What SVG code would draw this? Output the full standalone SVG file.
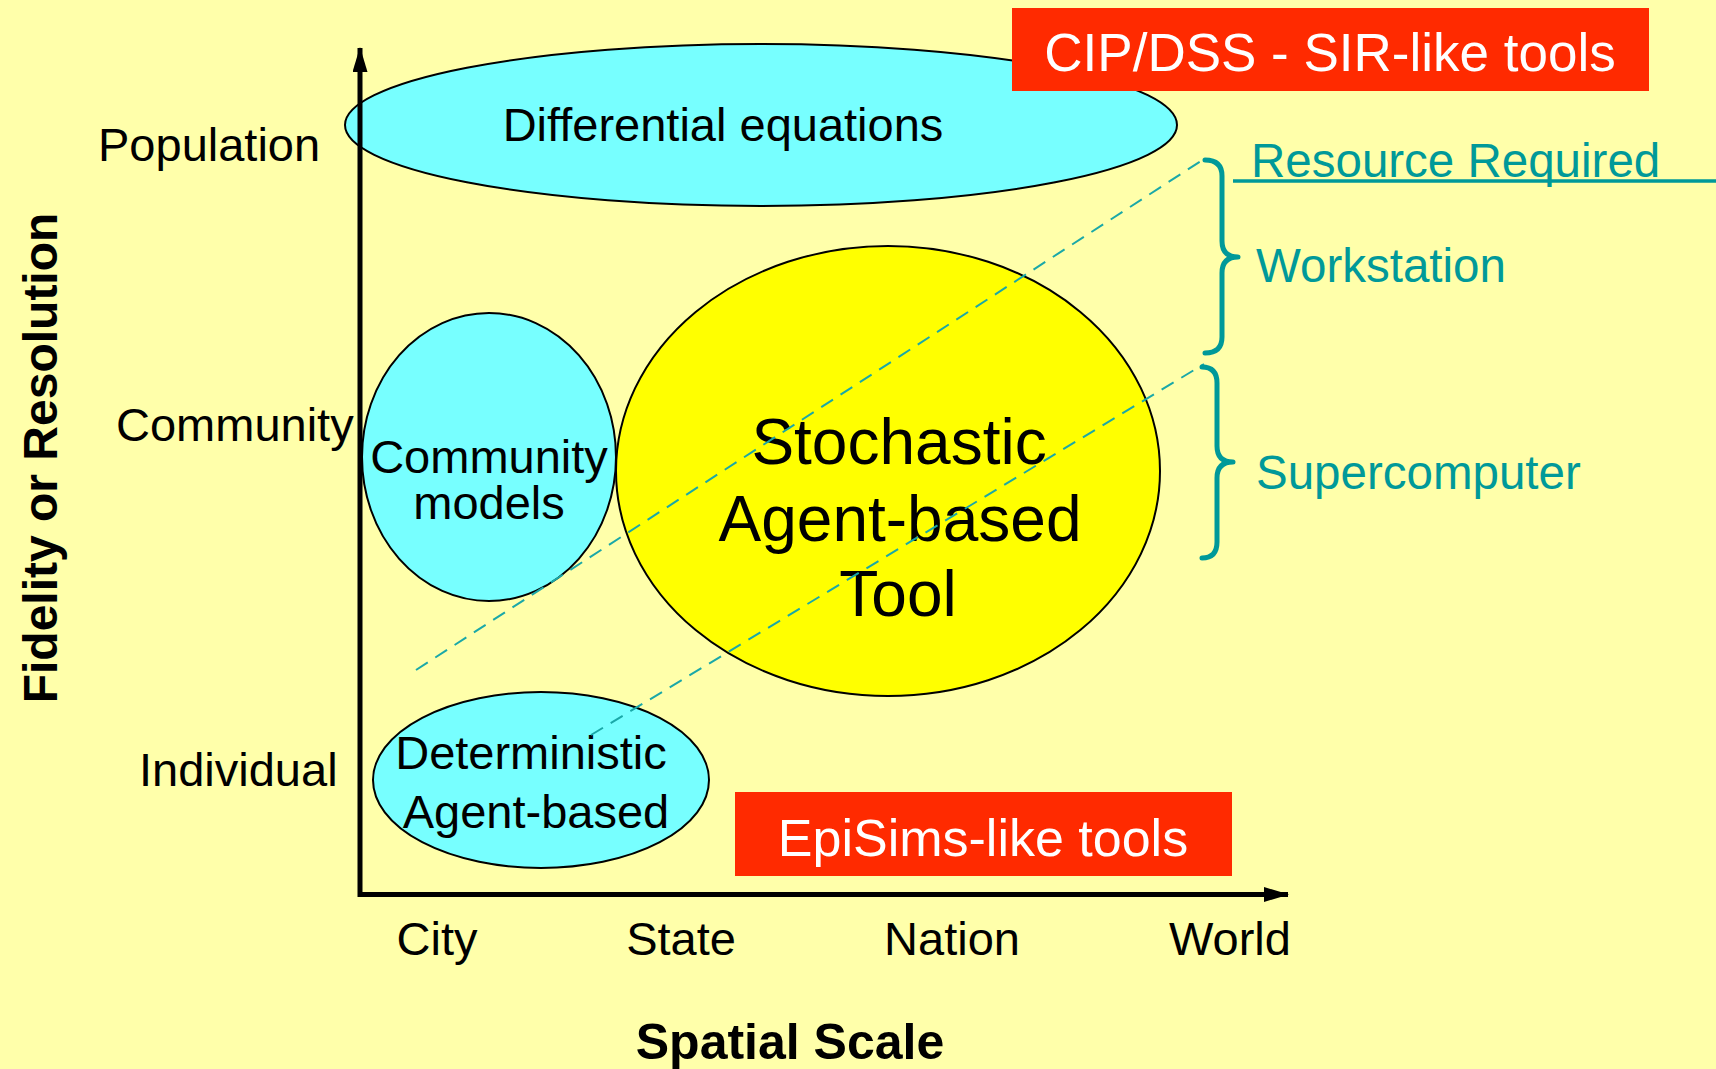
<svg xmlns="http://www.w3.org/2000/svg" width="1716" height="1069" viewBox="0 0 1716 1069">
<style>
text{font-family:"Liberation Sans",Arial,sans-serif;fill:#000}
.lbl{font-size:47px}
.teal{fill:#009999;font-size:47.5px}
.white{fill:#fff;font-size:53px}
.bold{font-weight:bold;font-size:50px}
.cyan{fill:#77ffff;stroke:#000;stroke-width:2}
.dash{stroke:#1aa8a8;stroke-width:2;stroke-dasharray:14,9;fill:none}
.brace{stroke:#009999;stroke-width:5;fill:none;stroke-linecap:round;stroke-linejoin:round}
.axis{stroke:#000;stroke-width:5;fill:none}
</style>
<defs>
<marker id="ah" viewBox="0 0 25 15" refX="24" refY="7.5" markerWidth="25" markerHeight="15" orient="auto" markerUnits="userSpaceOnUse">
<path d="M0,0 L25,7.5 L0,15 z" fill="#000"/>
</marker>
</defs>
<rect width="1716" height="1069" fill="#ffffaa"/>

<g id="diff-eq">
<ellipse class="cyan" cx="761" cy="125" rx="416" ry="81"/>
<text class="lbl" x="723" y="141" text-anchor="middle">Differential equations</text>
</g>

<g id="cip-dss">
<rect x="1012" y="8" width="637" height="83" fill="#ff2a00"/>
<text class="white" x="1330" y="71" text-anchor="middle">CIP/DSS - SIR-like tools</text>
</g>

<g id="community-models">
<ellipse class="cyan" cx="489" cy="457" rx="127" ry="144"/>
<text class="lbl" x="489" y="473" text-anchor="middle">Community</text>
<text class="lbl" x="489" y="519" text-anchor="middle">models</text>
</g>

<g id="stochastic">
<ellipse cx="888" cy="471" rx="272" ry="225" fill="#ffff00" stroke="#000" stroke-width="2"/>
<text x="899" y="464" text-anchor="middle" font-size="64">Stochastic</text>
<text x="900" y="541" text-anchor="middle" font-size="64">Agent-based</text>
<text x="898" y="616" text-anchor="middle" font-size="64">Tool</text>
</g>

<g id="deterministic">
<ellipse class="cyan" cx="541" cy="780" rx="168" ry="88"/>
<text class="lbl" x="531" y="769" text-anchor="middle">Deterministic</text>
<text class="lbl" x="536" y="828" text-anchor="middle">Agent-based</text>
</g>

<g id="episims">
<rect x="735" y="792" width="497" height="84" fill="#ff2a00"/>
<text x="983" y="856" text-anchor="middle" style="fill:#fff" font-size="52">EpiSims-like tools</text>
</g>

<g id="connectors">
<line class="dash" x1="416" y1="670" x2="1204" y2="159"/>
<line class="dash" x1="591" y1="735" x2="1204" y2="364"/>
<path class="axis" d="M360,897 V48" marker-end="url(#ah)"/>
<path class="axis" d="M358,894.5 H1288" marker-end="url(#ah)"/>
</g>

<g id="resources">
<text class="teal" x="1251" y="177">Resource Required</text>
<line x1="1233" y1="181" x2="1716" y2="181" stroke="#009999" stroke-width="3.5"/>
<path class="brace" d="M1205,160 q17,0 17,16 v65 q0,16 16,16 q-16,0 -16,16 v64 q0,16 -17,16"/>
<text class="teal" x="1256" y="282">Workstation</text>
<path class="brace" d="M1202,367 q15,0 15,16 v63 q0,16 16,16 q-16,0 -16,16 v64 q0,16 -15,16"/>
<text class="teal" x="1256" y="489">Supercomputer</text>
</g>

<g id="y-labels">
<text class="lbl" x="98" y="161">Population</text>
<text class="lbl" x="116" y="441">Community</text>
<text class="lbl" x="139" y="786">Individual</text>
<text class="bold" transform="translate(57,458) rotate(-90)" text-anchor="middle" style="font-size:48px">Fidelity or Resolution</text>
</g>

<g id="x-labels">
<text class="lbl" x="437" y="955" text-anchor="middle">City</text>
<text class="lbl" x="681" y="955" text-anchor="middle">State</text>
<text class="lbl" x="952" y="955" text-anchor="middle">Nation</text>
<text class="lbl" x="1230" y="955" text-anchor="middle">World</text>
<text class="bold" x="790" y="1059" text-anchor="middle">Spatial Scale</text>
</g>
</svg>
